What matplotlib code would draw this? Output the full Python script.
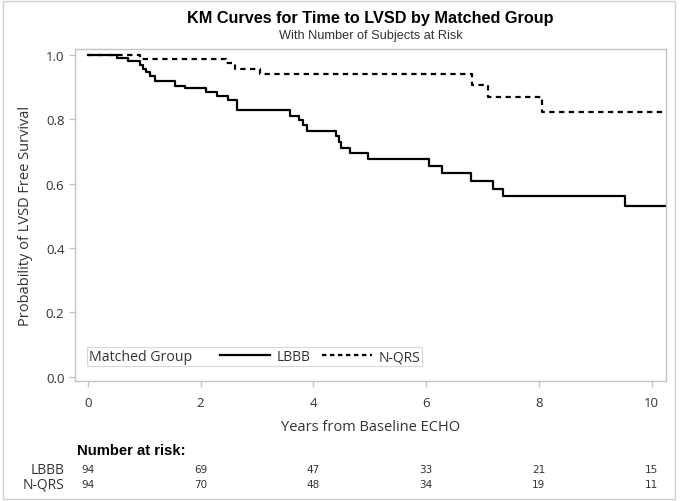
import numpy as np
import matplotlib
matplotlib.use("Agg")
import matplotlib.pyplot as plt
from matplotlib.lines import Line2D
from matplotlib.patches import Rectangle
from matplotlib.offsetbox import HPacker
import matplotlib.transforms as mtransforms

# KM step data (time of change, survival after change)
lbbb_t = [0, 0.51, 0.72, 0.92, 0.98, 1.03, 1.10, 1.20, 1.55, 1.72, 2.09, 2.29,
          2.48, 2.64, 3.58, 3.75, 3.82, 3.89, 4.41, 4.45, 4.49, 4.65, 4.97,
          6.06, 6.28, 6.80, 7.18, 7.36, 9.52, 10.3]
lbbb_s = [1.0, 0.992, 0.980, 0.968, 0.957, 0.947, 0.936, 0.920, 0.905, 0.896,
          0.884, 0.872, 0.860, 0.828, 0.811, 0.797, 0.783, 0.764, 0.747, 0.729,
          0.712, 0.694, 0.676, 0.654, 0.632, 0.609, 0.585, 0.561, 0.531, 0.531]
nqrs_t = [0, 0.92, 2.46, 2.61, 3.05, 6.82, 7.10, 8.06, 10.3]
nqrs_s = [1.0, 0.989, 0.975, 0.958, 0.940, 0.906, 0.869, 0.824, 0.824]

risk_times = [0, 2, 4, 6, 8, 10]
risk_lbbb = [94, 69, 47, 33, 21, 15]
risk_nqrs = [94, 70, 48, 34, 19, 11]

plt.rcParams['font.family'] = ['Open Sans', 'DejaVu Sans']
grey = '#c4c4c4'
txt = '#333333'

fig = plt.figure(figsize=(6.8, 5.02), dpi=100)
ax = fig.add_axes([0.110, 0.239, 0.869, 0.661])

ax.step(lbbb_t, lbbb_s, where='post', color='black', lw=1.6, label='LBBB')
ax.step(nqrs_t, nqrs_s, where='post', color='black', lw=1.6,
        linestyle=(0, (2.4, 2.0)), label='N-QRS')

ax.set_xlim(-0.23, 10.25)
ax.set_ylim(-0.013, 1.018)
ax.set_xticks(range(0, 11, 2))
ax.set_yticks([0.0, 0.2, 0.4, 0.6, 0.8, 1.0])
ax.set_yticklabels(['0.0', '0.2', '0.4', '0.6', '0.8', '1.0'])
for sp in ax.spines.values():
    sp.set_color(grey)
    sp.set_linewidth(1.0)
ax.tick_params(colors=grey, labelcolor=txt, labelsize=9.5, length=4, width=1)
ax.tick_params(axis='x', pad=7)

ax.set_ylabel('Probability of LVSD Free Survival', fontsize=10.5, color=txt, labelpad=9)
ax.set_xlabel('Years from Baseline ECHO', fontsize=10.5, color=txt, labelpad=7)

# titles
fig.text(0.545, 0.963, 'KM Curves for Time to LVSD by Matched Group',
         ha='center', va='center', fontsize=11.7, fontweight='bold',
         family=['Liberation Sans', 'DejaVu Sans'], color='black')
fig.text(0.545, 0.929, 'With Number of Subjects at Risk', ha='center',
         va='center', fontsize=9.2, family=['Liberation Sans', 'DejaVu Sans'],
         color=txt)

# legend with its title placed on the left
handles = [Line2D([], [], color='black', lw=1.6),
           Line2D([], [], color='black', lw=1.6, linestyle=(0, (2.0, 1.6)))]
leg = ax.legend(handles, ['LBBB', 'N-QRS'], title='Matched Group', ncol=2,
                loc='lower left', bbox_to_anchor=(0.02, 0.045), fontsize=10,
                title_fontsize=10.2, frameon=True, fancybox=False,
                edgecolor='#d0d0d0', handlelength=3.6, handletextpad=0.5,
                columnspacing=0.8, borderpad=0.15, borderaxespad=0)
leg.get_frame().set_linewidth(0.8)
for t in leg.get_texts():
    t.set_color(txt)
leg.get_title().set_color(txt)
vb = leg._legend_box
leg._legend_box = HPacker(pad=vb.pad, sep=20, align='center',
                          children=vb.get_children())
leg._legend_box.set_figure(fig)
leg._legend_box.axes = ax
leg._legend_box.set_offset(leg._findoffset)

# number at risk table
tr = mtransforms.blended_transform_factory(ax.transData, fig.transFigure)
fig.text(0.113, 0.101, 'Number at risk:', ha='left', va='center',
         fontsize=10.7, fontweight='bold', family=['Liberation Sans', 'DejaVu Sans'],
         color='black')
fig.text(0.095, 0.063, 'LBBB', ha='right', va='center', fontsize=10, color=txt)
fig.text(0.095, 0.033, 'N-QRS', ha='right', va='center', fontsize=10, color=txt)
for x, a, b in zip(risk_times, risk_lbbb, risk_nqrs):
    ax.text(x, 0.063, str(a), transform=tr, ha='center', va='center',
            fontsize=7.5, family=['Liberation Sans Narrow', 'DejaVu Sans'], color=txt)
    ax.text(x, 0.033, str(b), transform=tr, ha='center', va='center',
            fontsize=7.5, family=['Liberation Sans Narrow', 'DejaVu Sans'], color=txt)

# outer border
fig.patches.append(Rectangle((0.005, 0.004), 0.988, 0.992, transform=fig.transFigure,
                             fill=False, edgecolor='#d0d0d0', lw=1.0))

fig.savefig('out.png', dpi=100)
